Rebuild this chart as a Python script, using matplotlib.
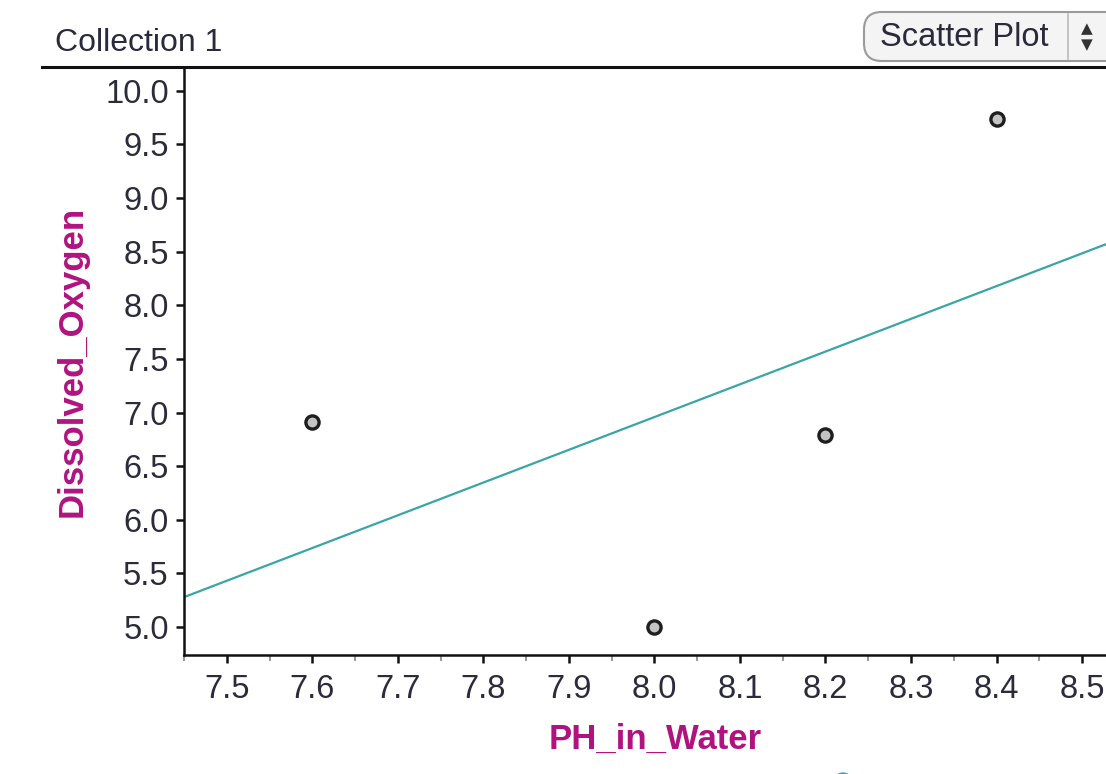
import numpy as np
import matplotlib
matplotlib.use('Agg')
from matplotlib import pyplot as plt
from matplotlib.patches import FancyBboxPatch, Circle
from matplotlib.ticker import MultipleLocator

# Data
ph_in_water = [7.6, 8.0, 8.2, 8.4]
dissolved_oxygen = [6.91, 5.0, 6.79, 9.74]

x_range = (7.45, 8.528)
y_range = (4.74, 10.22)

LABEL_COLOR = '#b0137f'
TICK_COLOR = '#2b2b3a'
LINE_COLOR = '#3aa5a5'

plt.rcParams['font.family'] = ['Liberation Sans', 'DejaVu Sans']

W, H = 1106, 774
fig = plt.figure(figsize=(W / 100, H / 100), dpi=100)
ax = fig.add_axes([184 / W, 1 - 655 / H, 1 - 184 / W, (655 - 67) / H])

# Least squares line across the whole axis
slope, intercept = np.polyfit(ph_in_water, dissolved_oxygen, 1)
xs = np.array(x_range)
ax.plot(xs, slope * xs + intercept, color=LINE_COLOR, lw=1.6, zorder=2)

ax.plot(ph_in_water, dissolved_oxygen, 'o', ms=9.5, mfc='#c4c4c4',
        mec='#1e1e1e', mew=2.4, zorder=3)

ax.set_xlim(*x_range)
ax.set_ylim(*y_range)
ax.xaxis.set_major_locator(MultipleLocator(0.1))
ax.xaxis.set_minor_locator(MultipleLocator(0.05))
ax.yaxis.set_major_locator(MultipleLocator(0.5))
ax.xaxis.set_major_formatter(matplotlib.ticker.FormatStrFormatter('%.1f'))
ax.yaxis.set_major_formatter(matplotlib.ticker.FormatStrFormatter('%.1f'))

for side in ['top', 'right']:
    ax.spines[side].set_visible(False)
for side in ['left', 'bottom']:
    ax.spines[side].set_linewidth(1.8)
    ax.spines[side].set_color('#111111')

ax.tick_params(axis='both', which='major', direction='out', length=6,
               width=1.8, color='#111111', labelsize=23.5, labelcolor=TICK_COLOR)
ax.tick_params(axis='x', which='minor', direction='out', length=4,
               width=1.5, color='#999999')
ax.tick_params(axis='x', which='major', pad=8)
ax.tick_params(axis='y', which='major', pad=5)

ax.set_xlabel('PH_in_Water', color=LABEL_COLOR, fontsize=25,
              fontweight='bold', labelpad=14)
ax.xaxis.set_label_coords(0.511, -0.115)
ax.set_ylabel('Dissolved_Oxygen', color=LABEL_COLOR, fontsize=25,
              fontweight='bold', labelpad=12)

# Header: title, rule and the plot type button
fig.text(55 / W, 1 - 43 / H, 'Collection 1', fontsize=23, color='#2a2a3a',
         va='center', ha='left')
fig.add_artist(plt.Line2D([42 / W, 1], [1 - 67 / H, 1 - 67 / H],
                          color='#111111', lw=2.2))

btn = FancyBboxPatch((864 / W, 1 - 61 / H), 262 / W, 49 / H,
                     boxstyle='round,pad=0,rounding_size=0.016',
                     transform=fig.transFigure, fc='#f4f4f4', ec='#9a9a9a',
                     lw=1.5, mutation_aspect=W / H)
fig.add_artist(btn)
fig.add_artist(plt.Line2D([1068 / W, 1068 / W], [1 - 59 / H, 1 - 14 / H],
                          color='#bbbbbb', lw=1.2))
fig.text(880 / W, 1 - 37 / H, 'Scatter Plot', fontsize=23.5, color='#2a2a3a',
         va='center', ha='left')
fig.text(1087 / W, 1 - 29 / H, '▲', fontsize=11, color='#333333',
         va='center', ha='center', family='DejaVu Sans')
fig.text(1087 / W, 1 - 45 / H, '▼', fontsize=11, color='#333333',
         va='center', ha='center', family='DejaVu Sans')

# Partly hidden teal dot at the bottom edge
fig.add_artist(Circle((843 / W, 1 - 778 / H), 7 / W, transform=fig.transFigure,
                      color=LINE_COLOR))

fig.savefig('out.png', dpi=100)
